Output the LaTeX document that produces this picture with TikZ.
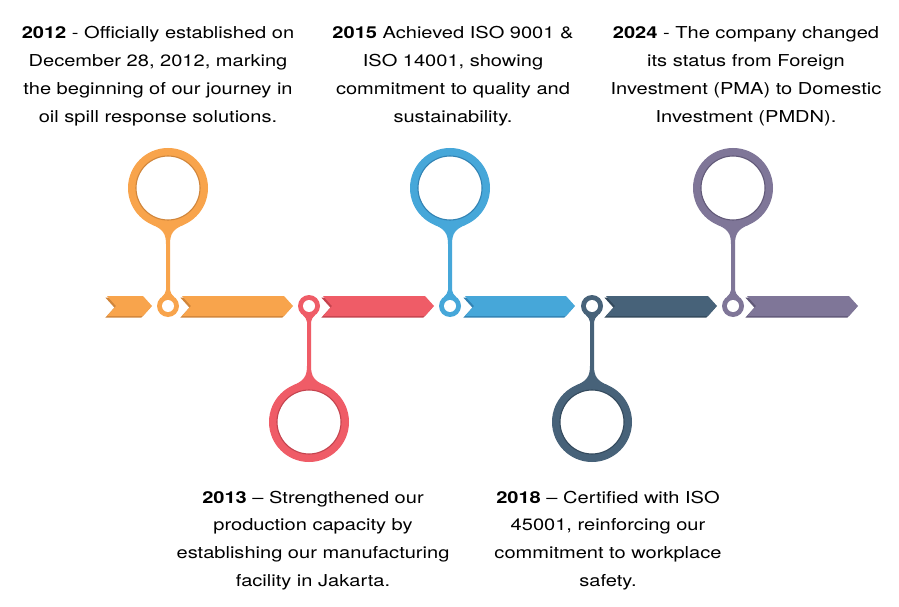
\documentclass[tikz,border=0pt]{standalone}
\usepackage{fontspec}
\setmainfont{TeX Gyre Heros}[FakeStretch=1.22]
\definecolor{corange}{HTML}{F8A44C}
\definecolor{corangeD}{HTML}{D0853A}
\definecolor{cred}{HTML}{EF5C67}
\definecolor{credD}{HTML}{C4434E}
\definecolor{cblue}{HTML}{46A7D9}
\definecolor{cblueD}{HTML}{3182B3}
\definecolor{cnavy}{HTML}{476279}
\definecolor{cnavyD}{HTML}{33495C}
\definecolor{cpurple}{HTML}{7F7698}
\definecolor{cpurpleD}{HTML}{615978}
\tikzset{
  txt/.style={anchor=base, inner sep=0pt, text=black, font=\fontsize{16.5}{28}\selectfont},
}
% segment: left x, tip x, colour, shadow colour
\newcommand\tlseg[4]{%
  \fill[#4] ({#1-1.6},297.6) -- ({#2-9-1.6},297.6) -- ({#2-1.6},307.6) -- ({#2-9-1.6},317.6) -- ({#1-1.6},317.6) -- ({#1+9-1.6},307.6) -- cycle;
  \fill[#3] (#1,296) -- ({#2-9},296) -- (#2,306) -- ({#2-9},316) -- (#1,316) -- ({#1+9},306) -- cycle;
}
% pin: cx, cy (big circle), sign (1 = stem goes down), colour, shadow colour
\newcommand\tlpin[5]{%
  \fill[#4] (#1,#2) circle[radius=40];
  \fill[#4] (#1,306) circle[radius=11];
  \fill[#4] ({#1-16},{#2+(#3)*36.7}) .. controls ({#1-5},{#2+(#3)*41}) and ({#1-2},{#2+(#3)*46}) .. ({#1-2},{#2+(#3)*56})
     -- ({#1-2},{306-(#3)*16}) .. controls ({#1-2},{306-(#3)*13}) and ({#1-4},{306-(#3)*11.5}) .. ({#1-6},{306-(#3)*9.2})
     -- ({#1+6},{306-(#3)*9.2}) .. controls ({#1+4},{306-(#3)*11.5}) and ({#1+2},{306-(#3)*13}) .. ({#1+2},{306-(#3)*16})
     -- ({#1+2},{#2+(#3)*56}) .. controls ({#1+2},{#2+(#3)*46}) and ({#1+5},{#2+(#3)*41}) .. ({#1+16},{#2+(#3)*36.7})
     -- (#1,#2) -- cycle;
  \fill[white, draw=#5, line width=1.1pt] (#1,#2) circle[radius=32];
  \fill[white] (#1,306) circle[radius=6];
}
\begin{document}
\begin{tikzpicture}[x=1bp,y=-1bp]
\useasboundingbox[fill=white] (0,0) rectangle (899,607);
% band
\tlseg{107}{152}{corange}{corangeD}
\tlseg{182}{293}{corange}{corangeD}
\tlseg{323}{434}{cred}{credD}
\tlseg{465}{575}{cblue}{cblueD}
\tlseg{606}{717}{cnavy}{cnavyD}
\tlseg{747}{858}{cpurple}{cpurpleD}
% pins
\tlpin{168}{188}{1}{corange}{corangeD}
\tlpin{309}{422}{-1}{cred}{credD}
\tlpin{450}{188}{1}{cblue}{cblueD}
\tlpin{592}{422}{-1}{cnavy}{cnavyD}
\tlpin{733}{188}{1}{cpurple}{cpurpleD}
% texts
\node[txt] (t2012) at (158,39) {\begin{tabular}[t]{@{}c@{}}\textbf{2012} - Officially established on\\ December 28, 2012, marking\\ the beginning of our journey in\\ oil spill response solutions.\end{tabular}};
\node[txt] (t2015) at (453,39) {\begin{tabular}[t]{@{}c@{}}\textbf{2015} Achieved ISO 9001 \&\\ ISO 14001, showing\\ commitment to quality and\\ sustainability.\end{tabular}};
\node[txt] (t2024) at (746,39) {\begin{tabular}[t]{@{}c@{}}\textbf{2024} - The company changed\\ its status from Foreign\\ Investment (PMA) to Domestic\\ Investment (PMDN).\end{tabular}};
\node[txt] (t2013) at (313,503) {\begin{tabular}[t]{@{}c@{}}\textbf{2013} -- Strengthened our\\ production capacity by\\ establishing our manufacturing\\ facility in Jakarta.\end{tabular}};
\node[txt] (t2018) at (608,503) {\begin{tabular}[t]{@{}c@{}}\textbf{2018} -- Certified with ISO\\ 45001, reinforcing our\\ commitment to workplace\\ safety.\end{tabular}};
\end{tikzpicture}
\end{document}
